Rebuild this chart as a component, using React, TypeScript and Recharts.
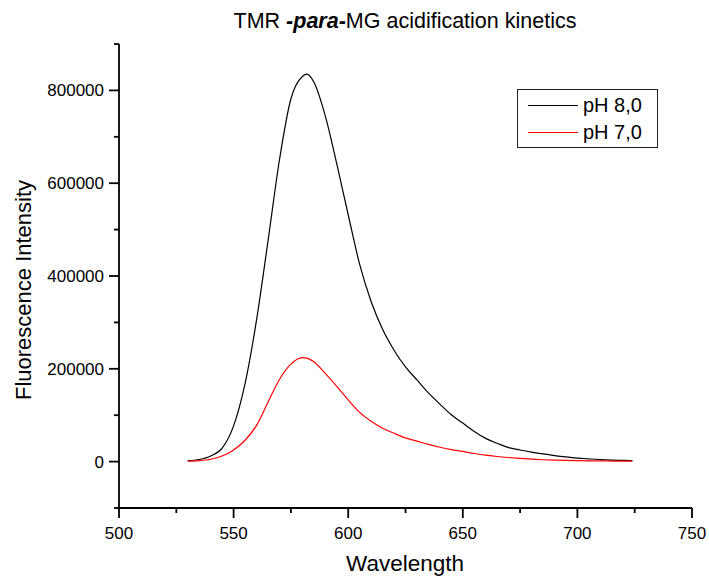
import React from "react";
import { LineChart, Line, XAxis, YAxis, Label } from "recharts";

// emission wavelengths (nm)
const wavelengths = [
  530, 535, 540, 545, 550, 555, 560, 565, 570, 575, 580, 582, 585, 590, 595,
  600, 605, 610, 615, 620, 625, 630, 635, 640, 645, 650, 655, 660, 665, 670,
  675, 680, 685, 690, 695, 700, 705, 710, 715, 720, 724,
];

// pH 8,0 fluorescence
const ph80 = [
  2000, 4500, 12000, 29000, 77000, 168000, 305000, 475000, 650000, 782000,
  830000, 835000, 818000, 745000, 642000, 532000, 425000, 345000, 285000,
  240000, 204000, 176000, 148000, 124000, 101000, 83000, 65000, 50000, 39500,
  30000, 25000, 20500, 16500, 13000, 10000, 7500, 5800, 4300, 3300, 2700, 2300,
];

// pH 7,0 fluorescence
const ph70 = [
  1000, 2000, 5000, 12000, 25000, 46000, 78000, 128000, 177000, 210000,
  224000, 223000, 215000, 190000, 162000, 133000, 106000, 87000, 72000, 61000,
  51000, 44000, 37000, 31000, 26000, 22000, 17500, 14000, 11000, 8800, 7000,
  5200, 4000, 3200, 2600, 2100, 1700, 1400, 1200, 1000, 1000,
];

const seriesNames = ["pH 8,0", "pH 7,0"];
const seriesColors = ["#000", "#ff0000"];

const xTicks = [500, 525, 550, 575, 600, 625, 650, 675, 700, 725, 750];
const yTicks = [
  -100000, 0, 100000, 200000, 300000, 400000, 500000, 600000, 700000, 800000,
  900000,
];

const FONT = "Arial, 'Liberation Sans', sans-serif";

const data = wavelengths.map((w, i) => ({ w, ph80: ph80[i], ph70: ph70[i] }));

// x ticks: long ticks with labels every 50, short ones in between
const XTick = (props: any) => {
  const { x, y, payload } = props;
  const major = payload.value % 50 === 0;
  return (
    <g>
      <line x1={x} y1={y} x2={x} y2={y + (major ? 10 : 5)} stroke="#000" strokeWidth={1.8} />
      {major && (
        <text x={x} y={y + 31} textAnchor="middle" fontSize={17} fontFamily={FONT} fill="#000">
          {payload.value}
        </text>
      )}
    </g>
  );
};

const YTick = (props: any) => {
  const { x, y, payload } = props;
  const major = payload.value % 200000 === 0;
  return (
    <g>
      <line x1={x} y1={y} x2={x - (major ? 10 : 5)} y2={y} stroke="#000" strokeWidth={1.8} />
      {major && (
        <text x={x - 15} y={y + 6} textAnchor="end" fontSize={17} fontFamily={FONT} fill="#000">
          {payload.value}
        </text>
      )}
    </g>
  );
};

// legend drawn as an overlay so it doesn't take room from the plot
const LegendBox = () => (
  <div
    style={{
      position: "absolute",
      left: 517,
      top: 89,
      width: 141,
      height: 59,
      border: "1px solid #222",
      background: "#fff",
      fontFamily: FONT,
      fontSize: 20,
      boxSizing: "border-box",
      paddingTop: 2,
    }}
  >
    {seriesNames.map((name, i) => (
      <div key={name} style={{ display: "flex", alignItems: "center", height: 27 }}>
        <div style={{ width: 50, height: 1.3, background: seriesColors[i], marginLeft: 10, marginRight: 5 }} />
        <span>{name}</span>
      </div>
    ))}
  </div>
);

export default function App() {
  return (
    <div style={{ position: "relative", width: 709, height: 579, background: "#fff" }}>
      <style>{`body{margin:0}`}</style>
      <LineChart
        width={709}
        height={579}
        data={data}
        margin={{ top: 44, right: 17, bottom: 0, left: 0 }}
      >
        <XAxis
          dataKey="w"
          type="number"
          domain={[500, 750]}
          ticks={xTicks}
          interval={0}
          height={71}
          tickSize={0}
          tickMargin={0}
          tickLine={false}
          tick={<XTick />}
          axisLine={{ stroke: "#000", strokeWidth: 1.8 }}
        >
          <Label
            content={() => (
              <text x={405} y={571} textAnchor="middle" fontSize={22.5} fontFamily={FONT} fill="#000">
                Wavelength
              </text>
            )}
          />
        </XAxis>
        <YAxis
          type="number"
          domain={[-100000, 900000]}
          ticks={yTicks}
          interval={0}
          width={119}
          tickSize={0}
          tickMargin={0}
          tickLine={false}
          tick={<YTick />}
          axisLine={{ stroke: "#000", strokeWidth: 1.8 }}
        >
          <Label
            content={() => (
              <text
                x={31}
                y={290}
                transform="rotate(-90 31 290)"
                textAnchor="middle"
                fontSize={22}
                fontFamily={FONT}
                fill="#000"
              >
                Fluorescence Intensity
              </text>
            )}
          />
        </YAxis>
        <Line
          type="monotone"
          dataKey="ph80"
          name={seriesNames[0]}
          stroke={seriesColors[0]}
          strokeWidth={1.2}
          dot={false}
          isAnimationActive={false}
        />
        <Line
          type="monotone"
          dataKey="ph70"
          name={seriesNames[1]}
          stroke={seriesColors[1]}
          strokeWidth={1.2}
          dot={false}
          isAnimationActive={false}
        />
      </LineChart>
      <div
        style={{
          position: "absolute",
          top: 9,
          left: 0,
          width: 810,
          textAlign: "center",
          fontFamily: FONT,
          fontSize: 21.5,
          color: "#000",
        }}
      >
        TMR <b><i>-para-</i></b>MG acidification kinetics
      </div>
      <LegendBox />
    </div>
  );
}
